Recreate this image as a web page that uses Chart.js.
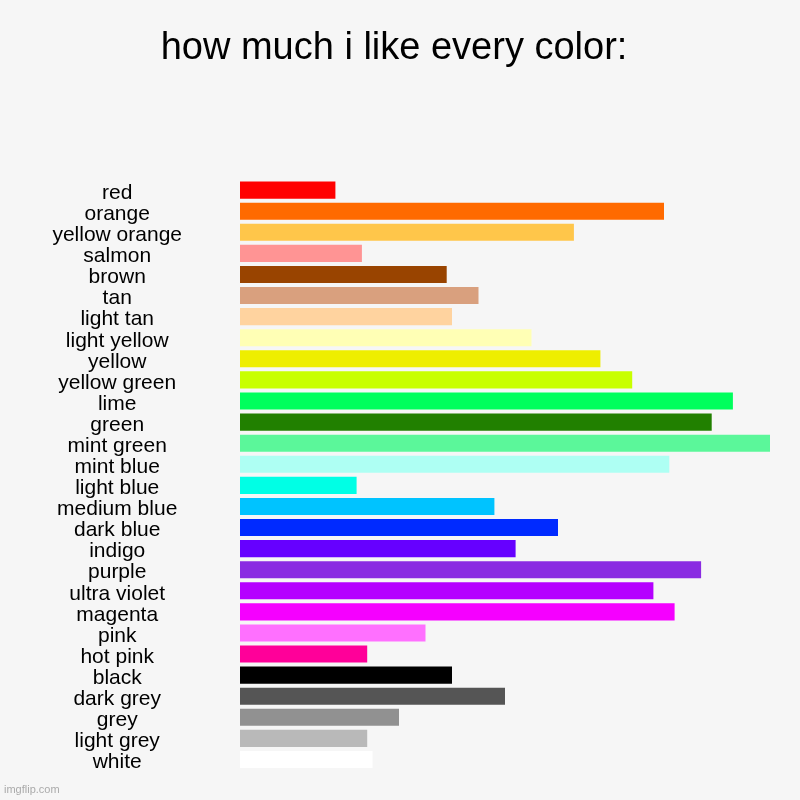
<!DOCTYPE html>
<html>
<head>
<meta charset="utf-8">
<script src="https://cdn.jsdelivr.net/npm/chart.js@4"></script>
<style>
  html, body { margin: 0; padding: 0; background: #f6f6f6; }
  #wrap { position: relative; width: 800px; height: 800px; }
  #mark {
    position: absolute; left: 4px; top: 783px;
    font: 11px "Liberation Sans", Arial, sans-serif; color: #aaaaaa;
  }
</style>
</head>
<body>
<div id="wrap">
  <canvas id="chart" width="800" height="800"></canvas>
  <div id="mark">imgflip.com</div>
</div>
<script>
// how much each colour is liked (0..10 scale)
const colorNames = [
  'red', 'orange', 'yellow orange', 'salmon', 'brown', 'tan', 'light tan',
  'light yellow', 'yellow', 'yellow green', 'lime', 'green', 'mint green',
  'mint blue', 'light blue', 'medium blue', 'dark blue', 'indigo', 'purple',
  'ultra violet', 'magenta', 'pink', 'hot pink', 'black', 'dark grey',
  'grey', 'light grey', 'white',
];

const likeValues = [
  1.8, 8.0, 6.3, 2.3, 3.9, 4.5, 4.0,
  5.5, 6.8, 7.4, 9.3, 8.9, 10.0,
  8.1, 2.2, 4.8, 6.0, 5.2, 8.7,
  7.8, 8.2, 3.5, 2.4, 4.0, 5.0,
  3.0, 2.4, 2.5,
];

const barColors = [
  '#ff0000', '#ff6a00', '#ffc64a', '#ff9494', '#994400', '#d9a07e', '#ffd39f',
  '#ffffb5', '#eeee00', '#c8ff00', '#00ff5d', '#218000', '#5bf79a',
  '#aefff3', '#00ffe5', '#00c3ff', '#002aff', '#6600ff', '#8a2be2',
  '#b500ff', '#f500ff', '#ff70ff', '#ff0099', '#000000', '#555555',
  '#919191', '#b9b9b9', '#ffffff',
];

const FONT = '"Liberation Sans", Arial, sans-serif';

const ctx = document.getElementById('chart').getContext('2d');

new Chart(ctx, {
  type: 'bar',
  data: {
    labels: colorNames,
    datasets: [{
      data:               likeValues,
      backgroundColor:    barColors,
      borderWidth:        0,
      barPercentage:      0.81,
      categoryPercentage: 1.0,
    }],
  },
  options: {
    indexAxis:  'y',
    responsive: false,
    animation:  false,
    layout: { padding: { left: 18, right: 30, top: 0, bottom: 30 } },
    plugins: {
      legend:  { display: false },
      tooltip: { enabled: false },
      title: {
        display: true,
        text:    'how much i like every color:',
        color:   '#000',
        font:    { family: FONT, size: 38, weight: 'normal', lineHeight: 1.2 },
        padding: { top: 26, bottom: 108 },
        align:   'center',
      },
    },
    scales: {
      x: {
        display: false,
        min: 0,
        max: 10,
      },
      y: {
        grid:   { display: false, drawTicks: false },
        border: { display: false },
        ticks: {
          color:       '#000',
          font:        { family: FONT, size: 21 },
          crossAlign:  'center',
          padding:     58,
          labelOffset: 3,
          autoSkip:    false,
        },
        // fixed label column; the big tick padding must not eat vertical space
        afterFit: (scale) => {
          scale.width = 222;
          scale.paddingTop = 0;
          scale.paddingBottom = 0;
        },
      },
    },
  },
});
</script>
</body>
</html>
